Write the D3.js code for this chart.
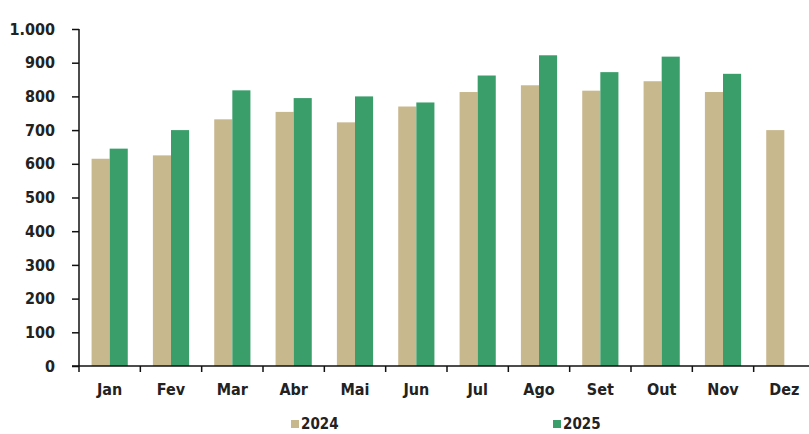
<!DOCTYPE html>
<html><head><meta charset="utf-8">
<script src="https://cdn.jsdelivr.net/npm/d3@7"></script>
<style>
body{margin:0;background:#fff;}
text{font-family:"DejaVu Sans Condensed","DejaVu Sans",sans-serif;font-stretch:condensed;}
</style></head>
<body><svg id="c" width="809" height="434"></svg>
<script>
const months = ["Jan","Fev","Mar","Abr","Mai","Jun","Jul","Ago","Set","Out","Nov","Dez"];
const series = ["2024","2025"];
const values2024 = [615,625,732,754,723,770,813,833,817,845,813,700];
const values2025 = [645,700,818,795,800,782,862,922,872,918,867,null];
const yTicks = [0,100,200,300,400,500,600,700,800,900,1000];
const colors = ["#c8b88e","#3a9e6b"];

const svg = d3.select("#c");
const x = d3.scaleBand().domain(months).range([79,815]).paddingInner(0.41).paddingOuter(0.205);
const xs = d3.scaleBand().domain(series).range([0,x.bandwidth()]);
const y = d3.scaleLinear().domain([0,1000]).range([366,29]);
const color = d3.scaleOrdinal().domain(series).range(colors);
const fmt = v => v===1000 ? "1.000" : d3.format("d")(v);

const data = months.map((m,i)=>({m, vals:[{s:"2024",v:values2024[i]},{s:"2025",v:values2025[i]}]}));
const g = svg.append("g").selectAll("g").data(data).join("g")
  .attr("transform", d=>`translate(${x(d.m)},0)`);
g.selectAll("rect").data(d=>d.vals.filter(e=>e.v!=null)).join("rect")
  .attr("x", d=>xs(d.s)).attr("width", xs.bandwidth())
  .attr("y", d=>y(d.v)).attr("height", d=>y(0)-y(d.v))
  .attr("fill", d=>color(d.s));

// y axis
const ya = svg.append("g").attr("transform","translate(79,0)")
  .call(d3.axisLeft(y).tickValues(yTicks).tickFormat(fmt).tickSize(7).tickPadding(17));
ya.select(".domain").attr("stroke","#111").attr("stroke-width",1.5).attr("d","M0,29V366");
ya.selectAll(".tick line").attr("stroke","#111").attr("stroke-width",1.5);
ya.selectAll("text").attr("font-size",16).attr("font-weight","bold").attr("fill","#222");

// x axis
const xa = svg.append("g").attr("transform","translate(0,366)")
  .call(d3.axisBottom(x).tickSize(0).tickPadding(18));
xa.select(".domain").attr("stroke","#111").attr("stroke-width",1.5).attr("d","M72,0H815");
xa.selectAll("text").attr("font-size",16).attr("font-weight","bold").attr("fill","#222");
const seps = months.map((m)=>x(m)-x.step()*x.paddingOuter()).concat([815]);
svg.append("g").selectAll("line").data(seps).join("line")
  .attr("x1",d=>d).attr("x2",d=>d).attr("y1",366).attr("y2",372)
  .attr("stroke","#111").attr("stroke-width",1.5);

// legend
const legX = [291,553];
const leg = svg.append("g").selectAll("g").data(series).join("g")
  .attr("transform",(d,i)=>`translate(${legX[i]},424)`);
leg.append("rect").attr("x",0).attr("y",-4).attr("width",8).attr("height",8).attr("fill",d=>color(d));
leg.append("text").attr("x",10).attr("y",5).attr("font-size",15).attr("font-weight","bold").attr("fill","#222").text(d=>d);
</script></body></html>
